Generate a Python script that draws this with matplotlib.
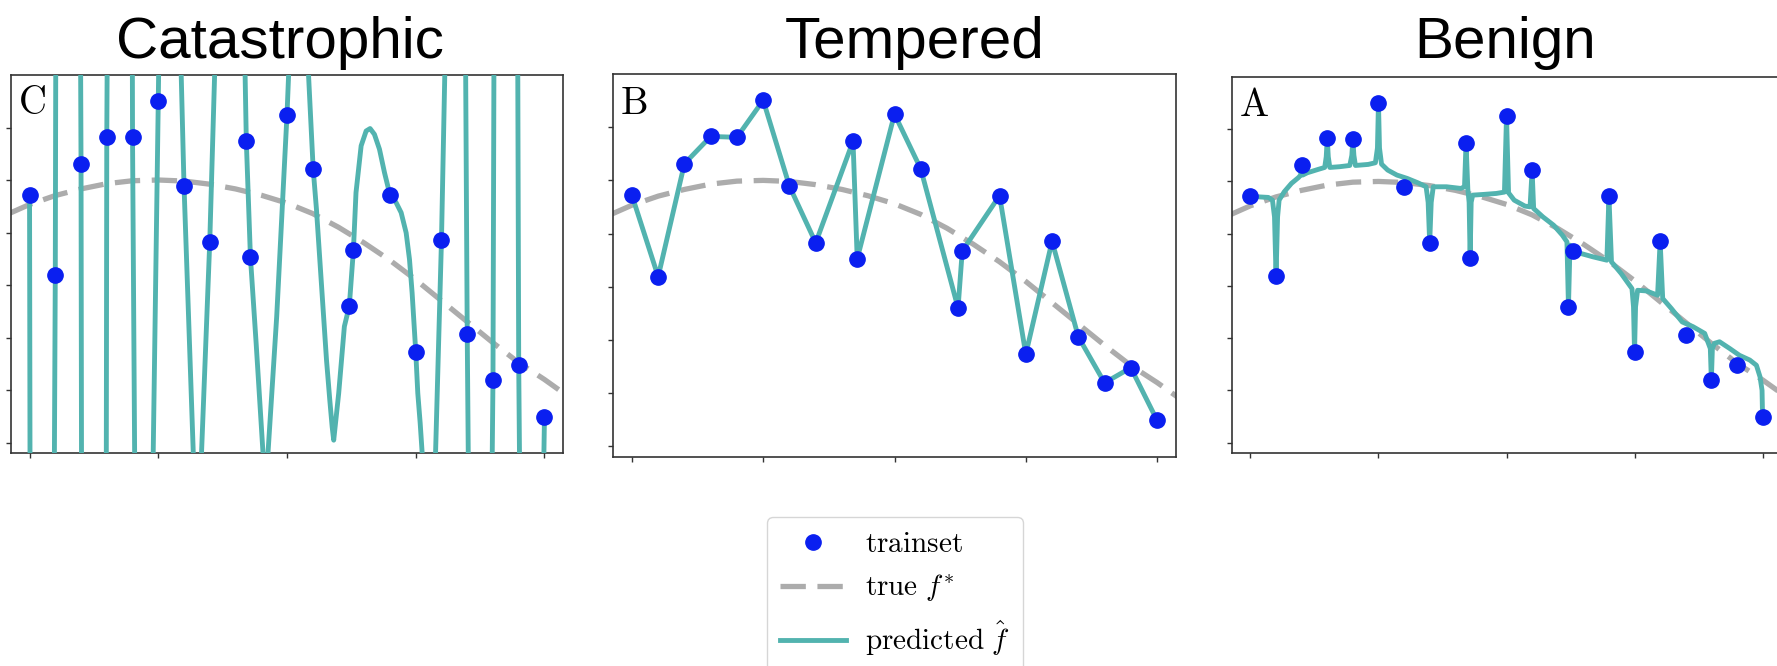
"""Three-panel overfitting figure: catastrophic / tempered / benign."""

import matplotlib
matplotlib.use("Agg")
import matplotlib.pyplot as plt
from matplotlib.lines import Line2D

plt.rcParams["mathtext.fontset"] = "cm"

# training points
x_train = [0.0, 0.05, 0.10, 0.15, 0.20, 0.25, 0.30, 0.35, 0.421, 0.429, 0.50,
           0.55, 0.621, 0.629, 0.70, 0.75, 0.80, 0.85, 0.90, 0.95, 1.0]
y_train = [0.86, 0.095, 1.157, 1.413, 1.405, 1.753, 0.945, 0.413, 1.368, 0.263, 1.623,
           1.108, -0.20, 0.336, 0.857, -0.634, 0.428, -0.47, -0.903, -0.761, -1.256]

# true function f*
x_true = [-0.04, 0.0, 0.05, 0.10, 0.15, 0.20, 0.25, 0.30, 0.35, 0.40, 0.45, 0.50,
          0.55, 0.60, 0.65, 0.70, 0.75, 0.80, 0.85, 0.90, 0.95, 1.0, 1.04]
y_true = [0.68, 0.767, 0.852, 0.915, 0.965, 0.993, 1.0, 0.99, 0.96, 0.915, 0.855, 0.78,
          0.68, 0.55, 0.40, 0.235, 0.05, -0.15, -0.35, -0.55, -0.74, -0.90, -1.04]

# catastrophic predictor (values beyond the y-limits leave the frame)
x_cat = [0.0, 0.001, 0.048, 0.050, 0.051, 0.099, 0.100, 0.101, 0.149, 0.150, 0.151,
         0.1996, 0.200, 0.2045, 0.2393, 0.250, 0.2515, 0.2930, 0.300, 0.318, 0.326,
         0.334, 0.350, 0.3612, 0.4175, 0.421, 0.429, 0.440, 0.4534, 0.458, 0.4631,
         0.480, 0.500, 0.5056, 0.5388, 0.5508, 0.5572, 0.5637, 0.5702, 0.5767, 0.5831,
         0.5877, 0.5907, 0.6004, 0.6114, 0.621, 0.629, 0.634, 0.644, 0.6537, 0.6614,
         0.6698, 0.6796, 0.6893, 0.700, 0.712, 0.7217, 0.7314, 0.7379, 0.743, 0.750,
         0.754, 0.7586, 0.7625, 0.765, 0.786, 0.7885, 0.800, 0.8064, 0.808, 0.845,
         0.847, 0.850, 0.852, 0.854, 0.898, 0.900, 0.902, 0.948, 0.950, 0.952, 0.998,
         1.0]
y_cat = [0.86, -1.9, -1.9, 0.095, 2.3, 2.3, 1.157, -1.9, -1.9, 1.413, 2.3,
         2.3, 1.405, -1.9, -1.9, 1.753, 2.3, 2.3, 0.945, -1.6, -2.0,
         -1.6, 0.413, 2.3, 2.3, 1.368, 0.263, -0.55, -1.6, -1.9, -1.6,
         -0.30, 1.623, 2.3, 2.3, 1.108, 0.721, 0.243, -0.235, -0.713, -1.096,
         -1.351, -1.478, -1.031, -0.395, -0.20, 0.336, 0.880, 1.326, 1.467, 1.490,
         1.435, 1.293, 1.071, 0.857, 0.784, 0.689, 0.497, 0.243, -0.076, -0.634,
         -1.031, -1.313, -1.6, -1.9, -1.9, -1.6, 0.428, 2.0, 2.3, 2.3,
         2.0, -0.47, -1.6, -1.9, -1.9, -0.903, 2.3, 2.3, -0.761, -1.9, -1.9,
         -1.256]

# benign predictor (smooth curve with narrow spikes)
x_ben = [0.0, 0.014, 0.035, 0.043, 0.047, 0.050, 0.053, 0.056, 0.066, 0.080, 0.094,
         0.098, 0.100, 0.102, 0.111, 0.132, 0.145, 0.148, 0.150, 0.152, 0.155, 0.174,
         0.194, 0.198, 0.200, 0.202, 0.205, 0.230, 0.244, 0.248, 0.250, 0.252, 0.256,
         0.268, 0.286, 0.306, 0.327, 0.343, 0.347, 0.350, 0.353, 0.357, 0.383, 0.411,
         0.418, 0.421, 0.4245, 0.427, 0.429, 0.431, 0.434, 0.453, 0.480, 0.496, 0.500,
         0.504, 0.515, 0.536, 0.546, 0.550, 0.553, 0.571, 0.592, 0.609, 0.618, 0.621,
         0.624, 0.629, 0.641, 0.669, 0.696, 0.700, 0.705, 0.724, 0.745, 0.748, 0.750,
         0.752, 0.756, 0.773, 0.795, 0.800, 0.805, 0.822, 0.843, 0.864, 0.887, 0.898,
         0.900, 0.902, 0.906, 0.916, 0.936, 0.955, 0.975, 0.988, 0.995, 0.999, 1.0]
y_ben = [0.86, 0.853, 0.847, 0.821, 0.661, 0.095, 0.661, 0.821, 0.901, 0.981, 1.038,
         1.061, 1.157, 1.061, 1.083, 1.115, 1.134, 1.236, 1.413, 1.236, 1.134, 1.141,
         1.153, 1.25, 1.405, 1.25, 1.153, 1.163, 1.179, 1.32, 1.753, 1.32, 1.166,
         1.109, 1.061, 1.029, 0.987, 0.949, 0.80, 0.413, 0.80, 0.949, 0.949, 0.933,
         0.95, 1.368, 0.925, 0.80, 0.263, 0.80, 0.869, 0.875, 0.885, 0.898, 1.623,
         0.891, 0.821, 0.764, 0.757, 1.108, 0.741, 0.661, 0.581, 0.486, 0.422, -0.20,
         0.39, 0.336, 0.316, 0.278, 0.246, 0.857, 0.23, 0.118, -0.026, -0.20, -0.634,
         -0.20, -0.042, -0.048, -0.089, 0.428, -0.121, -0.217, -0.345, -0.39, -0.455, -0.60,
         -0.903, -0.60, -0.55, -0.535, -0.60, -0.665, -0.71, -0.76, -0.87, -1.0, -1.256]

titles = ["Catastrophic", "Tempered", "Benign"]
letters = ["C", "B", "A"]
x_ticks = [0.0, 0.25, 0.5, 0.75, 1.0]
y_ticks = [-1.5, -1.0, -0.5, 0.0, 0.5, 1.0, 1.5]

TEAL = "#52b3af"
GREY = "#acacac"
BLUE = "#0a1ff0"

W, H = 1777, 666


def _style(ax: plt.Axes) -> None:
    ax.set_xlim(-0.036, 1.036)
    ax.set_ylim(-1.6, 2.0)
    ax.set_xticks(x_ticks)
    ax.set_yticks(y_ticks)
    ax.set_xticklabels([])
    ax.set_yticklabels([])
    ax.tick_params(length=3.5, width=1.0, color="#333333")
    for s in ax.spines.values():
        s.set_linewidth(1.2)
        s.set_color("#333333")


fig = plt.figure(figsize=(W / 100, H / 100), dpi=100)

boxes = [
    [11 / W, 1 - 453 / H, 552 / W, 378 / H],
    [613 / W, 1 - 457 / H, 563 / W, 383 / H],
    [1232 / W, 1 - 453 / H, 549 / W, 376 / H],
]
title_x = [280, 915, 1505]
pred_x = [x_cat, x_train, x_ben]
pred_y = [y_cat, y_train, y_ben]

for i in range(3):
    ax = fig.add_axes(boxes[i])
    ax.plot(x_true, y_true, color=GREY, lw=3.8, dashes=(4.8, 2.2), zorder=2,
            label=r"$\mathrm{true}\ f^{*}$")
    ax.plot(pred_x[i], pred_y[i], color=TEAL, lw=3.5, zorder=3,
            solid_joinstyle="round", label=r"$\mathrm{predicted}\ \hat{f}$")
    ax.plot(x_train, y_train, "o", color=BLUE, markersize=11, zorder=4,
            label=r"$\mathrm{trainset}$")
    _style(ax)
    ax.text(0.012, 0.975, r"$\mathrm{%s}$" % letters[i], transform=ax.transAxes,
            ha="left", va="top", fontsize=28)
    fig.text(title_x[i] / W, 1 - 58 / H, titles[i], ha="center", va="baseline",
             fontsize=42, family="Liberation Sans")

handles = [
    Line2D([], [], marker="o", ls="none", color=BLUE, markersize=11),
    Line2D([], [], color=GREY, lw=3.8, dashes=(4.8, 2.2)),
    Line2D([], [], color=TEAL, lw=3.5),
]
labels = [r"$\mathrm{trainset}$", r"$\mathrm{true}\ f^{*}$", r"$\mathrm{predicted}\ \hat{f}$"]
fig.legend(handles, labels, loc="upper left", bbox_to_anchor=(767 / W, 1 - 517 / H),
           borderaxespad=0, frameon=True, fancybox=True, edgecolor="#cccccc",
           fontsize=21, handlelength=2.25, handletextpad=0.65, labelspacing=0.5,
           borderpad=0.46)

fig.savefig("out.png", dpi=100)
